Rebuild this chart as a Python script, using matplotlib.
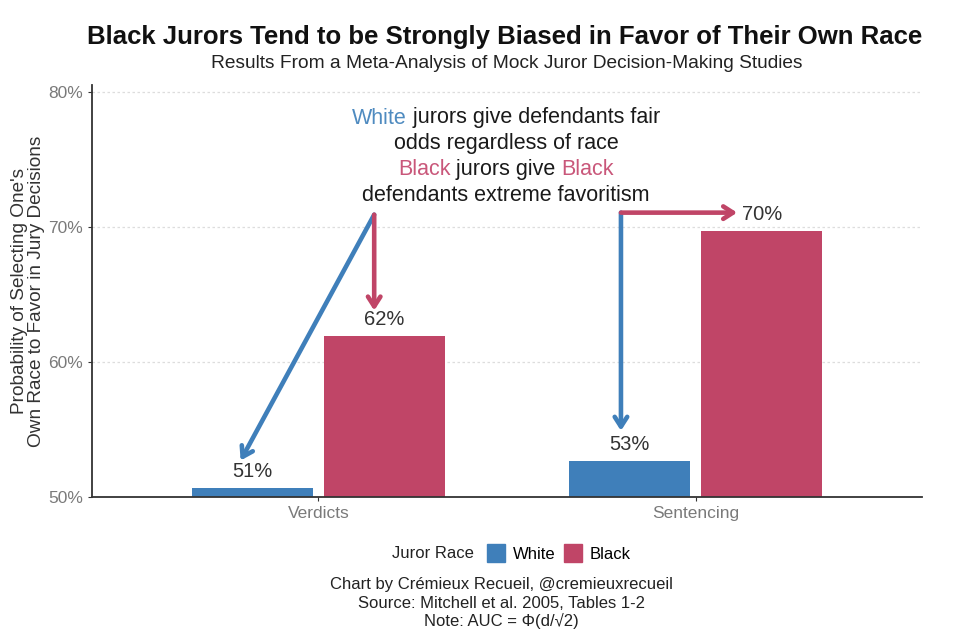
import matplotlib.pyplot as plt
import numpy as np
from matplotlib.patches import Patch

plt.rcParams['font.family'] = ['Liberation Sans', 'DejaVu Sans']

categories = ["Verdicts", "Sentencing"]
white_vals = [50.7, 52.7]
black_vals = [61.9, 69.7]
white_labels = ["51%", "53%"]
black_labels = ["62%", "70%"]
yticks = [50, 60, 70, 80]

blue = "#3f7fba"
pink = "#c04567"

fig = plt.figure(figsize=(9.66, 6.37), dpi=100)
ax = fig.add_axes([0.0952, 0.2198, 0.8593, 0.6468])

x = np.arange(len(categories))
w = 0.32
off = 0.175
ax.bar(x - off, np.array(white_vals) - 50, w, bottom=50, color=blue)
ax.bar(x + off, np.array(black_vals) - 50, w, bottom=50, color=pink)

for i in range(len(categories)):
    ax.text(x[i] - off, white_vals[i] + 0.5, white_labels[i], ha='center', va='bottom',
            fontsize=14.5, color='#333333')
    ax.text(x[i] + off, black_vals[i] + 0.5, black_labels[i], ha='center', va='bottom',
            fontsize=14.5, color='#333333')

ax.set_xlim(-0.6, 1.6)
ax.set_ylim(50, 80.5)
ax.set_yticks(yticks)
ax.set_yticklabels([f"{t}%" for t in yticks])
ax.set_xticks(x)
ax.set_xticklabels(categories)
ax.tick_params(axis='both', colors='#333333', labelcolor='#7a7a7a', labelsize=12.5, length=3)
ax.yaxis.grid(True, linestyle=(0, (2, 2)), color='#dddddd', lw=0.9)
ax.set_axisbelow(True)
for s in ['top', 'right']:
    ax.spines[s].set_visible(False)
for s in ['left', 'bottom']:
    ax.spines[s].set_color('#333333')
    ax.spines[s].set_linewidth(1.3)

ax.set_ylabel("Probability of Selecting One's\nOwn Race to Favor in Jury Decisions",
              fontsize=13.7, color='#333333', labelpad=2, linespacing=1.0)

# arrows
aprops = dict(arrowstyle="->,head_length=0.7,head_width=0.45", lw=3.3, shrinkA=0, shrinkB=0)
ax.annotate("", xy=(-0.206, 52.7), xytext=(0.148, 70.9),
            arrowprops=dict(color=blue, **aprops))
ax.annotate("", xy=(0.148, 63.8), xytext=(0.148, 70.9),
            arrowprops=dict(color=pink, **aprops))
ax.annotate("", xy=(0.802, 54.9), xytext=(0.802, 71.05),
            arrowprops=dict(color=blue, **aprops))
ax.annotate("", xy=(1.11, 71.05), xytext=(0.802, 71.05),
            arrowprops=dict(color=pink, **aprops))

# multi-coloured annotation text
lines = [
    [("White", "#4f8bc0"), (" jurors give defendants fair", "#1a1a1a")],
    [("odds regardless of race", "#1a1a1a")],
    [("Black", "#c9577a"), (" jurors give ", "#1a1a1a"), ("Black", "#c9577a")],
    [("defendants extreme favoritism", "#1a1a1a")],
]
renderer = fig.canvas.get_renderer()
cx = 506 / 966
y0 = 1 - 118 / 637
dy = 25.7 / 637
for k, parts in enumerate(lines):
    yy = y0 - k * dy
    objs = []
    for txt, col in parts:
        t = fig.text(0, yy, txt, color=col, fontsize=15.5, va='center', ha='left')
        objs.append(t)
    widths = [o.get_window_extent(renderer).width for o in objs]
    total = sum(widths)
    xs = cx * 966 - total / 2
    for o, wd in zip(objs, widths):
        o.set_x(xs / 966)
        xs += wd

# title
fig.text(505 / 966, 1 - 37 / 637, "Black Jurors Tend to be Strongly Biased in Favor of Their Own Race",
         ha='center', va='center', fontsize=18.5, fontweight='bold', color='#111111')
fig.text(507 / 966, 1 - 64 / 637, "Results From a Meta-Analysis of Mock Juror Decision-Making Studies",
         ha='center', va='center', fontsize=13.8, color='#222222')

# legend
fig.text(474 / 966, 1 - 553 / 637, "Juror Race", ha='right', va='center', fontsize=12, color='#222222')
handles = [Patch(color=blue, label="White"), Patch(color=pink, label="Black")]
fig.legend(handles=handles, ncol=2, loc='center left', bbox_to_anchor=(472 / 966, 1 - 553 / 637),
           frameon=False, fontsize=12, handlelength=1.1, handleheight=1.3,
           columnspacing=0.5, handletextpad=0.45)

# caption
caption = ["Chart by Crémieux Recueil, @cremieuxrecueil",
           "Source: Mitchell et al. 2005, Tables 1-2",
           "Note: AUC = Φ(d/√2)"]
for i, c in enumerate(caption):
    fig.text(501 / 966, 1 - (585 + i * 18) / 637, c, ha='center', va='center',
             fontsize=12, color='#222222')

fig.savefig("out.png", dpi=100)
